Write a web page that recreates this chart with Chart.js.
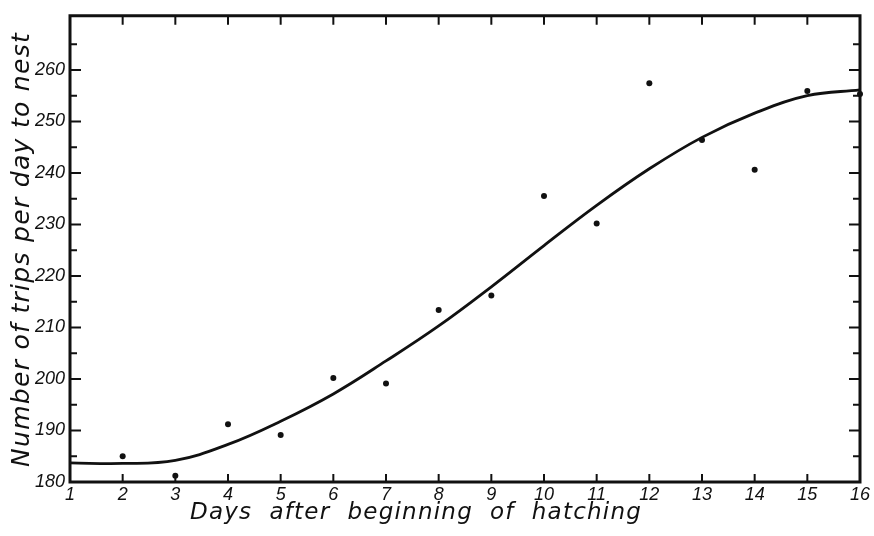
<!DOCTYPE html>
<html>
<head>
<meta charset="utf-8">
<script src="https://cdn.jsdelivr.net/npm/chart.js@4.4.1/dist/chart.umd.min.js"></script>
<style>
  html, body { margin: 0; padding: 0; background: #fff; }
  #wrap { width: 874px; height: 536px; }
</style>
</head>
<body>
<div id="wrap"><canvas id="tripsChart" width="874" height="536"></canvas></div>
<script>
// Days after beginning of hatching
const days = [1, 2, 3, 4, 5, 6, 7, 8, 9, 10, 11, 12, 13, 14, 15, 16];
// observed trips per day (no observation on day 1)
const obsDays = [2, 3, 4, 5, 6, 7, 8, 9, 10, 11, 12, 13, 14, 15, 16];
const observed = [185.0, 181.2, 191.2, 189.1, 200.2, 199.1, 213.4, 216.2, 235.5, 230.2, 257.4, 246.4, 240.6, 255.9, 255.3];
// smoothed curve drawn through the points
const fitted = [183.7, 183.6, 184.2, 187.3, 191.8, 197.1, 203.5, 210.3, 217.9, 225.9, 233.7, 240.8, 246.9, 251.6, 255.0, 256.1];
const yLabels = [180, 190, 200, 210, 220, 230, 240, 250, 260];

const xTitle = 'Days  after  beginning  of  hatching';
const yTitle = 'Number of trips per day to nest';

const ink = '#111';

// draws the frame, inward ticks and both axis titles
const framePlugin = {
  id: 'frame',
  afterDatasetsDraw(chart) {
    const ctx = chart.ctx;
    const { left, right, top, bottom } = chart.chartArea;
    const x = chart.scales.x;
    const y = chart.scales.y;
    ctx.save();
    ctx.strokeStyle = ink;
    ctx.lineCap = 'butt';

    // ticks on top and bottom edges
    ctx.lineWidth = 2;
    days.forEach(d => {
      if (d === days[0] || d === days[days.length - 1]) return;
      const px = x.getPixelForValue(d);
      ctx.beginPath();
      ctx.moveTo(px, top); ctx.lineTo(px, top + 9);
      ctx.moveTo(px, bottom); ctx.lineTo(px, bottom - 8);
      ctx.stroke();
    });

    // ticks on left and right edges, every 5
    y.ticks.forEach(t => {
      const v = t.value;
      if (v <= 180 || v > 267) return;
      const py = y.getPixelForValue(v);
      const len = v % 10 === 0 ? 11 : 7;
      ctx.beginPath();
      ctx.moveTo(left, py); ctx.lineTo(left + len, py);
      ctx.moveTo(right, py); ctx.lineTo(right - len, py);
      ctx.stroke();
    });

    // frame
    ctx.lineWidth = 3;
    ctx.beginPath();
    ctx.moveTo(left, top); ctx.lineTo(right, top);
    ctx.lineTo(right, bottom); ctx.lineTo(left, bottom);
    ctx.closePath();
    ctx.stroke();

    // axis titles, stretched like the hand lettering
    ctx.fillStyle = ink;
    ctx.textBaseline = 'alphabetic';
    ctx.textAlign = 'left';

    ctx.font = 'italic 23px "DejaVu Sans"';
    ctx.letterSpacing = '0px';
    let w = ctx.measureText(xTitle).width;
    ctx.letterSpacing = ((452 - w) / xTitle.length).toFixed(2) + 'px';
    ctx.fillText(xTitle, 190, 519);

    ctx.font = 'italic 25px "DejaVu Sans"';
    ctx.letterSpacing = '0px';
    w = ctx.measureText(yTitle).width;
    ctx.letterSpacing = ((435 - w) / yTitle.length).toFixed(2) + 'px';
    ctx.translate(29, 467);
    ctx.rotate(-Math.PI / 2);
    ctx.fillText(yTitle, 0, 0);
    ctx.restore();
  }
};

const tickFont = { family: '"Liberation Sans", Arial, sans-serif', size: 18, style: 'italic' };

new Chart(document.getElementById('tripsChart'), {
  type: 'scatter',
  data: {
    datasets: [
      {
        label: 'Smoothed',
        data: days.map((d, i) => ({ x: d, y: fitted[i] })),
        showLine: true,
        borderColor: ink,
        borderWidth: 2.8,
        pointRadius: 0,
        tension: 0.4,
        clip: false
      },
      {
        label: 'Observed',
        data: obsDays.map((d, i) => ({ x: d, y: observed[i] })),
        showLine: false,
        backgroundColor: ink,
        borderColor: ink,
        pointRadius: 3,
        borderWidth: 0,
        clip: false
      }
    ]
  },
  options: {
    responsive: false,
    animation: false,
    maintainAspectRatio: false,
    layout: { padding: { top: 6, right: 14, left: 0, bottom: 0 } },
    plugins: {
      legend: { display: false },
      tooltip: { enabled: false }
    },
    scales: {
      x: {
        type: 'linear',
        min: 1,
        max: 16,
        afterFit: s => { s.height = 54; },
        grid: { display: false, drawTicks: false },
        border: { display: false },
        ticks: { stepSize: 1, color: ink, font: tickFont, padding: 2, maxRotation: 0, autoSkip: false }
      },
      y: {
        min: 180,
        max: 270.5,
        afterFit: s => { s.width = 70; },
        grid: { display: false, drawTicks: false },
        border: { display: false },
        ticks: {
          stepSize: 5,
          color: ink,
          font: tickFont,
          padding: 5,
          autoSkip: false,
          callback: v => (yLabels.includes(v) ? String(v) : '')
        }
      }
    }
  },
  plugins: [framePlugin]
});
</script>
</body>
</html>
